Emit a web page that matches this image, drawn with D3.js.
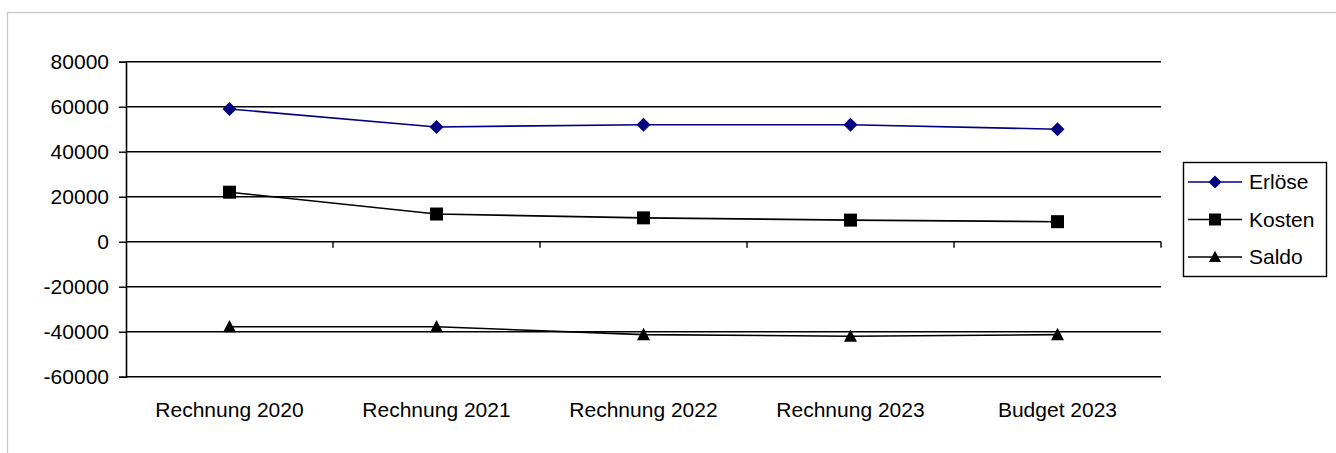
<!DOCTYPE html>
<html>
<head>
<meta charset="utf-8">
<script src="https://cdn.jsdelivr.net/npm/d3@7"></script>
<style>
  html, body { margin: 0; padding: 0; background: #fff; }
  svg { display: block; }
  text { font-family: "Liberation Sans", Arial, sans-serif; fill: #000; }
</style>
</head>
<body>
<svg id="chart" width="1336" height="453"></svg>
<script>
const categories = ["Rechnung 2020", "Rechnung 2021", "Rechnung 2022", "Rechnung 2023", "Budget 2023"];
const erloese = [59000, 51000, 52000, 52000, 50000];
const kosten  = [22000, 12300, 10600, 9600, 8900];
const saldo   = [-37800, -37800, -41300, -42000, -41300];
const yTicks  = [80000, 60000, 40000, 20000, 0, -20000, -40000, -60000];
const seriesNames = ["Erlöse", "Kosten", "Saldo"];

// custom marker shapes (size = half-width in px)
const diamond = { draw(ctx, r) { ctx.moveTo(0, -r); ctx.lineTo(r, 0); ctx.lineTo(0, r); ctx.lineTo(-r, 0); ctx.closePath(); } };
const square  = { draw(ctx, r) { ctx.rect(-r, -r, 2 * r, 2 * r); } };
const triangle = { draw(ctx, r) { ctx.moveTo(0, -r * 1.05); ctx.lineTo(r, r * 0.85); ctx.lineTo(-r, r * 0.85); ctx.closePath(); } };

const series = [
  { name: seriesNames[0], values: erloese, color: "#000080", symbol: diamond,  r: 7,   lr: 6.5 },
  { name: seriesNames[1], values: kosten,  color: "#000000", symbol: square,   r: 6.5, lr: 6 },
  { name: seriesNames[2], values: saldo,   color: "#000000", symbol: triangle, r: 6.5, lr: 6 }
];

const svg = d3.select("#chart");
const FS = 21;

// outer chart border (light gray, open to the right / bottom)
svg.append("rect").attr("x", 7.5).attr("y", 12.5).attr("width", 2000).attr("height", 1000)
  .attr("fill", "#fff").attr("stroke", "#c8c8c8").attr("stroke-width", 1.3);

const plot = { left: 126, right: 1161, top: 61.7, bottom: 376.7 };

const x = d3.scaleBand().domain(categories).range([plot.left, plot.right]).paddingInner(0).paddingOuter(0);
const y = d3.scaleLinear().domain([-60000, 80000]).range([plot.bottom, plot.top]);
const cx = d => x(d) + x.bandwidth() / 2;

// gridlines
svg.append("g").selectAll("line").data(yTicks).join("line")
  .attr("x1", plot.left).attr("x2", plot.right)
  .attr("y1", d => y(d)).attr("y2", d => y(d))
  .attr("stroke", "#000").attr("stroke-width", 1.4);

// y axis
const yAxis = d3.axisLeft(y).tickValues(yTicks).tickSize(7).tickPadding(10).tickFormat(d => String(d));
const gy = svg.append("g").attr("transform", `translate(${plot.left},0)`).call(yAxis);
gy.attr("font-size", null).attr("font-family", null);
gy.select(".domain").attr("stroke", "#000").attr("stroke-width", 1.6);
gy.selectAll(".tick line").attr("stroke", "#000").attr("stroke-width", 1.4);
gy.selectAll(".tick text").attr("font-size", FS).attr("fill", "#000");

// x axis on zero line: ticks at category boundaries
const gx = svg.append("g").attr("transform", `translate(0,${y(0)})`);
gx.selectAll("line").data(categories).join("line")
  .attr("x1", d => x(d) + x.bandwidth()).attr("x2", d => x(d) + x.bandwidth())
  .attr("y1", 0).attr("y2", 6)
  .attr("stroke", "#000").attr("stroke-width", 1.4);

// category labels
svg.append("g").selectAll("text").data(categories).join("text")
  .attr("x", d => cx(d)).attr("y", 417)
  .attr("text-anchor", "middle").attr("font-size", FS)
  .text(d => d);

// series lines and markers
const line = d3.line().x((v, i) => cx(categories[i])).y(v => y(v));
series.forEach(s => {
  svg.append("path").datum(s.values)
    .attr("d", line).attr("fill", "none")
    .attr("stroke", s.color).attr("stroke-width", 1.6);
  svg.append("g").selectAll("path").data(s.values).join("path")
    .attr("transform", (v, i) => `translate(${cx(categories[i])},${y(v)})`)
    .attr("d", d3.symbol().type(s.symbol).size(s.r))
    .attr("fill", s.color);
});

// legend
const lg = svg.append("g");
lg.append("rect").attr("x", 1183.5).attr("y", 162.5).attr("width", 143).attr("height", 114)
  .attr("fill", "#fff").attr("stroke", "#000").attr("stroke-width", 1.4);
series.forEach((s, i) => {
  const ly = 182 + i * 37.5;
  lg.append("line").attr("x1", 1188).attr("x2", 1242).attr("y1", ly).attr("y2", ly)
    .attr("stroke", s.color).attr("stroke-width", 1.6);
  lg.append("path").attr("transform", `translate(1215,${ly})`)
    .attr("d", d3.symbol().type(s.symbol).size(s.lr))
    .attr("fill", s.color);
  lg.append("text").attr("x", 1249).attr("y", ly).attr("dy", "0.35em")
    .attr("font-size", FS).text(s.name);
});
</script>
</body>
</html>
